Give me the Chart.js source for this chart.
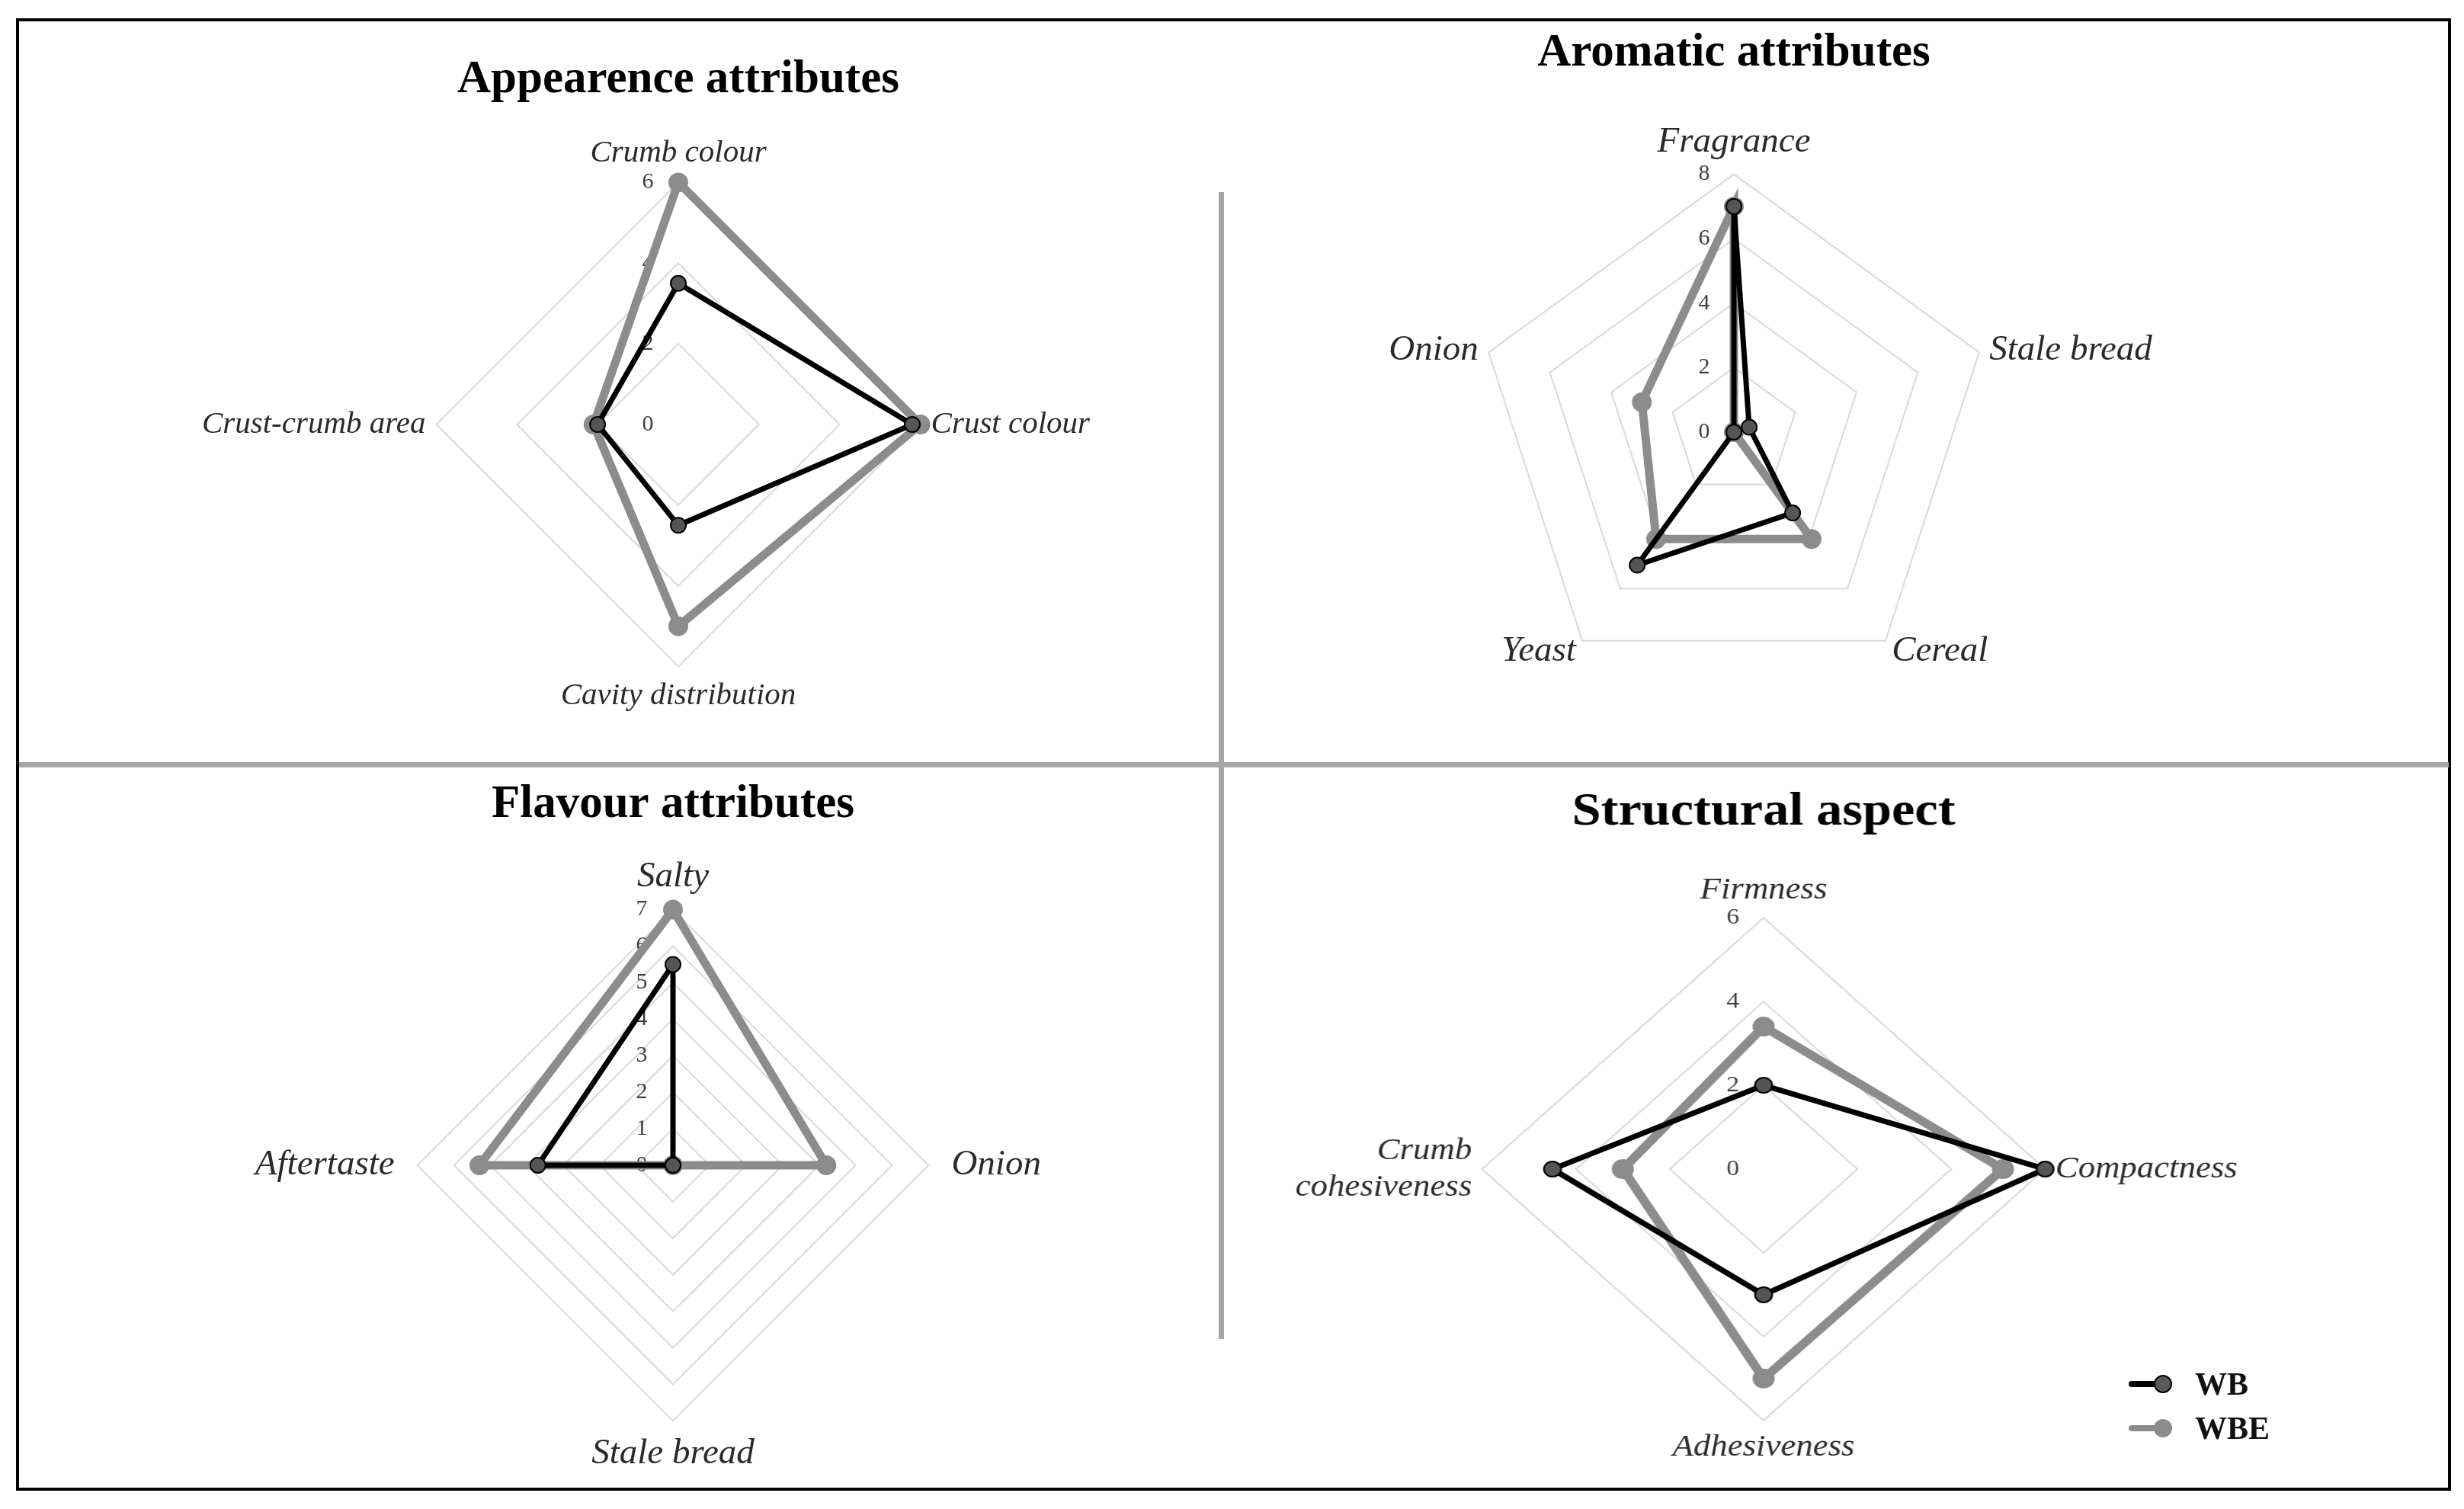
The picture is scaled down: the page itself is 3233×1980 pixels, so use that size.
<!DOCTYPE html>
<html lang="en">
<head>
<meta charset="UTF-8">
<title>Sensory profiles WB / WBE</title>
<script src="https://cdn.jsdelivr.net/npm/chart.js@4/dist/chart.umd.min.js"></script>
<style>
  body { margin: 0; background: #fff; font-family: "Liberation Serif", serif; }
  #page { position: relative; width: 3233px; height: 1980px; background: #fff; overflow: hidden; }
  #frame { position: absolute; left: 21px; top: 24px; width: 3195px; height: 1932px; border: 4px solid #000; box-sizing: border-box; }
  .hline { position: absolute; left: 25px; top: 1000px; width: 3188px; height: 7px; background: #a6a6a6; }
  .vline { position: absolute; left: 1599px; top: 252px; width: 7px; height: 1505px; background: #a6a6a6; }
  canvas { position: absolute; }
  #c4 { transform: scaleX(1.12); }
  .item { position: absolute; left: 2793px; height: 48px; display: flex; align-items: center;
          font: bold 42px "Liberation Serif", serif; color: #111; }
  .key { position: relative; width: 54px; height: 26px; margin-right: 33px; }
  .key::before { content: ""; position: absolute; left: 0; top: 9px; width: 42px; height: 8px; border-radius: 4px; background: var(--line); }
  .key::after { content: ""; position: absolute; left: 33px; top: 1px; width: 20px; height: 20px; border-radius: 50%;
                background: var(--fill); border: 2px solid var(--line); }
</style>
</head>
<body>
<div id="page">
  <div id="frame"></div>
  <div class="hline"></div>
  <div class="vline"></div>

  <canvas id="c1" width="1380" height="869" style="left:200px;top:69px"></canvas>
  <canvas id="c2" width="1300" height="908" style="left:1625px;top:34px"></canvas>
  <canvas id="c3" width="1280" height="917" style="left:243px;top:1020px"></canvas>
  <canvas id="c4" width="1260" height="895" style="left:1684px;top:1030px"></canvas>

  <div class="item" style="top:1792px"><span class="key" style="--line:#000;--fill:#5a5a5a"></span>WB</div>
  <div class="item" style="top:1850px"><span class="key" style="--line:#8c8c8c;--fill:#8c8c8c"></span>WBE</div>
</div>

<script>
// series
const seriesNames = ["WB", "WBE"];

// appearance
const appearanceLabels = ["Crumb colour", "Crust colour", "Cavity distribution", "Crust-crumb area"];
const appearanceWB = [3.5, 5.8, 2.5, 2.0];
const appearanceWBE = [6.0, 6.0, 5.0, 2.1];
const appearanceTicks = { max: 6, step: 2 };

// aromatic
const aromaticLabels = ["Fragrance", "Stale bread", "Cereal", "Yeast", "Onion"];
const aromaticWB = [7.0, 0.5, 3.1, 5.1, 0];
const aromaticWBE = [7.0, 0, 4.1, 4.1, 3.0];
const aromaticTicks = { max: 8, step: 2 };

// flavour
const flavourLabels = ["Salty", "Onion", "Stale bread", "Aftertaste"];
const flavourWB = [5.5, 0, 0, 3.7];
const flavourWBE = [7.0, 4.2, 0, 5.3];
const flavourTicks = { max: 7, step: 1 };

// structural
const structuralLabels = ["Firmness", "Compactness", "Adhesiveness", ["Crumb", "cohesiveness"]];
const structuralWB = [2.0, 6.0, 3.0, 4.5];
const structuralWBE = [3.4, 5.1, 5.0, 3.0];
const structuralTicks = { max: 6, step: 2 };

const SERIF = '"Liberation Serif", "Times New Roman", serif';

// tick numbers sit left of the first spoke, under the lines
const tickLabels = {
  id: "tickLabels",
  beforeDatasetsDraw(chart, args, opts) {
    const scale = chart.scales.r;
    const ctx = chart.ctx;
    ctx.save();
    ctx.font = "30px " + SERIF;
    ctx.fillStyle = "#404040";
    ctx.textAlign = "center";
    ctx.textBaseline = "middle";
    scale.ticks.forEach((t) => {
      const p = scale.getPointPositionForValue(0, t.value);
      ctx.fillText(String(t.value), p.x - opts.offset, p.y);
    });
    ctx.restore();
  },
};

// excel centres the slanted labels on the spoke end, chart.js hangs them above/below
const labelNudge = {
  id: "labelNudge",
  afterLayout(chart, args, opts) {
    const items = chart.scales.r._pointLabelItems || [];
    (opts.dy || []).forEach((dy, i) => {
      if (items[i] && dy) {
        items[i].y += dy;
        items[i].top += dy;
        items[i].bottom += dy;
      }
    });
  },
};

function makeRadar(id, title, labels, wb, wbe, ticks, cfg) {
  return new Chart(document.getElementById(id), {
    type: "radar",
    data: {
      labels: labels,
      datasets: [
        {
          label: seriesNames[0],
          data: wb,
          fill: false,
          borderColor: "#000",
          borderWidth: 7,
          pointRadius: 10,
          pointBackgroundColor: "#555",
          pointBorderColor: "#000",
          pointBorderWidth: 2,
        },
        {
          label: seriesNames[1],
          data: wbe,
          fill: false,
          borderColor: "#8c8c8c",
          borderWidth: 11,
          pointRadius: 12,
          pointBackgroundColor: "#8c8c8c",
          pointBorderColor: "#8c8c8c",
          pointBorderWidth: 2,
        },
      ],
    },
    options: {
      responsive: false,
      animation: false,
      devicePixelRatio: 1,
      layout: { padding: 0 },
      elements: { line: { tension: 0 } },
      plugins: {
        legend: { display: false },
        tooltip: { enabled: false },
        tickLabels: { offset: cfg.tickOffset },
        labelNudge: { dy: cfg.labelDy || [] },
        title: {
          display: true,
          text: title,
          color: "#000",
          font: { family: SERIF, size: 61, weight: "bold" },
          padding: { top: 0, bottom: cfg.titleGap },
        },
      },
      scales: {
        r: {
          min: 0,
          max: ticks.max,
          ticks: { stepSize: ticks.step, display: false },
          grid: { color: "#d9d9d9", lineWidth: 2 },
          angleLines: { display: false },
          pointLabels: {
            color: "#2a2a2a",
            font: { family: SERIF, size: cfg.labelSize, style: "italic" },
            padding: cfg.labelPad,
          },
        },
      },
    },
    plugins: [tickLabels, labelNudge],
  });
}

makeRadar("c1", "Appearence attributes", appearanceLabels, appearanceWB, appearanceWBE, appearanceTicks,
  { titleGap: 34, labelSize: 41, labelPad: 14, tickOffset: 40 });
makeRadar("c2", "Aromatic attributes", aromaticLabels, aromaticWB, aromaticWBE, aromaticTicks,
  { titleGap: 17, labelSize: 47, labelPad: 14, tickOffset: 39, labelDy: [0, 30, -26, -26, 30] });
makeRadar("c3", "Flavour attributes", flavourLabels, flavourWB, flavourWBE, flavourTicks,
  { titleGap: 29, labelSize: 47, labelPad: (c) => (c.index % 2 ? 30 : 15), tickOffset: 41 });
makeRadar("c4", "Structural aspect", structuralLabels, structuralWB, structuralWBE, structuralTicks,
  { titleGap: 41, labelSize: 40, labelPad: 12, tickOffset: 36 });
</script>
</body>
</html>
